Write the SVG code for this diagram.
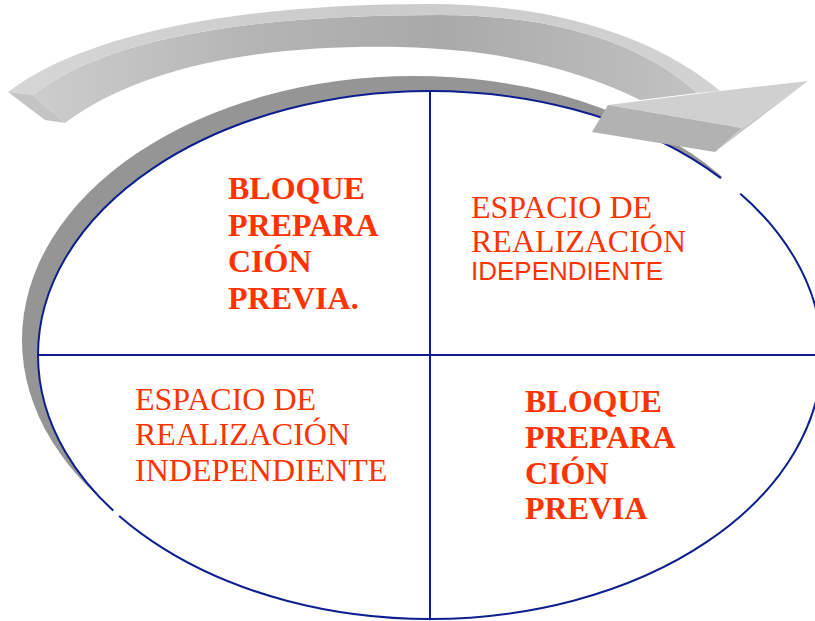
<svg xmlns="http://www.w3.org/2000/svg" width="815" height="621" viewBox="0 0 815 621">
  <defs>
    <linearGradient id="shaftFront" x1="8" y1="0" x2="720" y2="0" gradientUnits="userSpaceOnUse">
      <stop offset="0" stop-color="#d0d0d0"/>
      <stop offset="0.35" stop-color="#b4b4b4"/>
      <stop offset="0.6" stop-color="#a9a9a9"/>
      <stop offset="1" stop-color="#c4c4c4"/>
    </linearGradient>
    <linearGradient id="shaftTop" x1="8" y1="0" x2="720" y2="0" gradientUnits="userSpaceOnUse">
      <stop offset="0" stop-color="#d6d6d6"/>
      <stop offset="0.5" stop-color="#cbcbcb"/>
      <stop offset="1" stop-color="#d2d2d2"/>
    </linearGradient>
    <style>
      .serif { font-family: "Liberation Serif", "Times New Roman", serif; fill: #ff3300; }
      .bold { font-weight: bold; font-size: 32px; }
      .reg { font-size: 32px; }
      .sans { font-family: "Liberation Sans", Arial, sans-serif; fill: #ff3300; font-size: 26px; }
      .div { stroke: #0d1f8f; stroke-width: 2; fill: none; }
    </style>
  </defs>

  <rect width="815" height="621" fill="#ffffff"/>

  <!-- circle (ellipse) with shadow -->
  <g id="cycle">
    <ellipse cx="414" cy="340" rx="392" ry="264" fill="#959595"/>
    <ellipse cx="430" cy="355" rx="392" ry="264" fill="#ffffff" stroke="#0d1f8f" stroke-width="2"/>
    <line x1="722" y1="177" x2="740" y2="194" stroke="#ffffff" stroke-width="6"/>
    <line x1="114" y1="510" x2="119" y2="516" stroke="#ffffff" stroke-width="4"/>
  </g>

  <!-- dividing lines -->
  <g id="connectors">
    <line class="div" x1="430" y1="91" x2="430" y2="619"/>
    <line class="div" x1="38" y1="355" x2="815" y2="355"/>
  </g>

  <!-- curved 3D arrow -->
  <g id="arrow">
    <path d="M33,95 C110,35 260,15 440,15 C570,15 650,50 697,93 L640,100 C580,70 500,49 400,47 C280,45 150,60 65,123 Z" fill="url(#shaftFront)"/>
    <path d="M8,92 C90,30 250,4 430,4 C560,4 660,40 720,91 L697,93 C650,50 570,15 440,15 C260,15 110,35 33,95 Z" fill="url(#shaftTop)"/>
    <polygon points="8,92 33,95 65,123 45,120" fill="#c4c4c4"/>
    <polygon points="608,105 720,91 808,81 742,128" fill="#d0d0d0"/>
    <polygon points="608,105 742,128 715,152 592,132" fill="#b2b2b2"/>
    <polygon points="808,81 742,128 715,152" fill="#c6c6c6"/>
  </g>

  <g id="q1">
    <text class="serif bold" x="228" y="199">BLOQUE</text>
    <text class="serif bold" x="228" y="235.5">PREPARA</text>
    <text class="serif bold" x="228" y="272">CIÓN</text>
    <text class="serif bold" x="228" y="308.5">PREVIA.</text>
  </g>

  <g id="q2">
    <text class="serif reg" x="471" y="218">ESPACIO DE</text>
    <text class="serif reg" x="471" y="252">REALIZACIÓN</text>
    <text class="sans" x="471" y="280">IDEPENDIENTE</text>
  </g>

  <g id="q3">
    <text class="serif reg" x="135" y="410">ESPACIO DE</text>
    <text class="serif reg" x="135" y="445">REALIZACIÓN</text>
    <text class="serif reg" x="135" y="481">INDEPENDIENTE</text>
  </g>

  <g id="q4">
    <text class="serif bold" x="525" y="412">BLOQUE</text>
    <text class="serif bold" x="525" y="448">PREPARA</text>
    <text class="serif bold" x="525" y="483.5">CIÓN</text>
    <text class="serif bold" x="525" y="519">PREVIA</text>
  </g>
</svg>
